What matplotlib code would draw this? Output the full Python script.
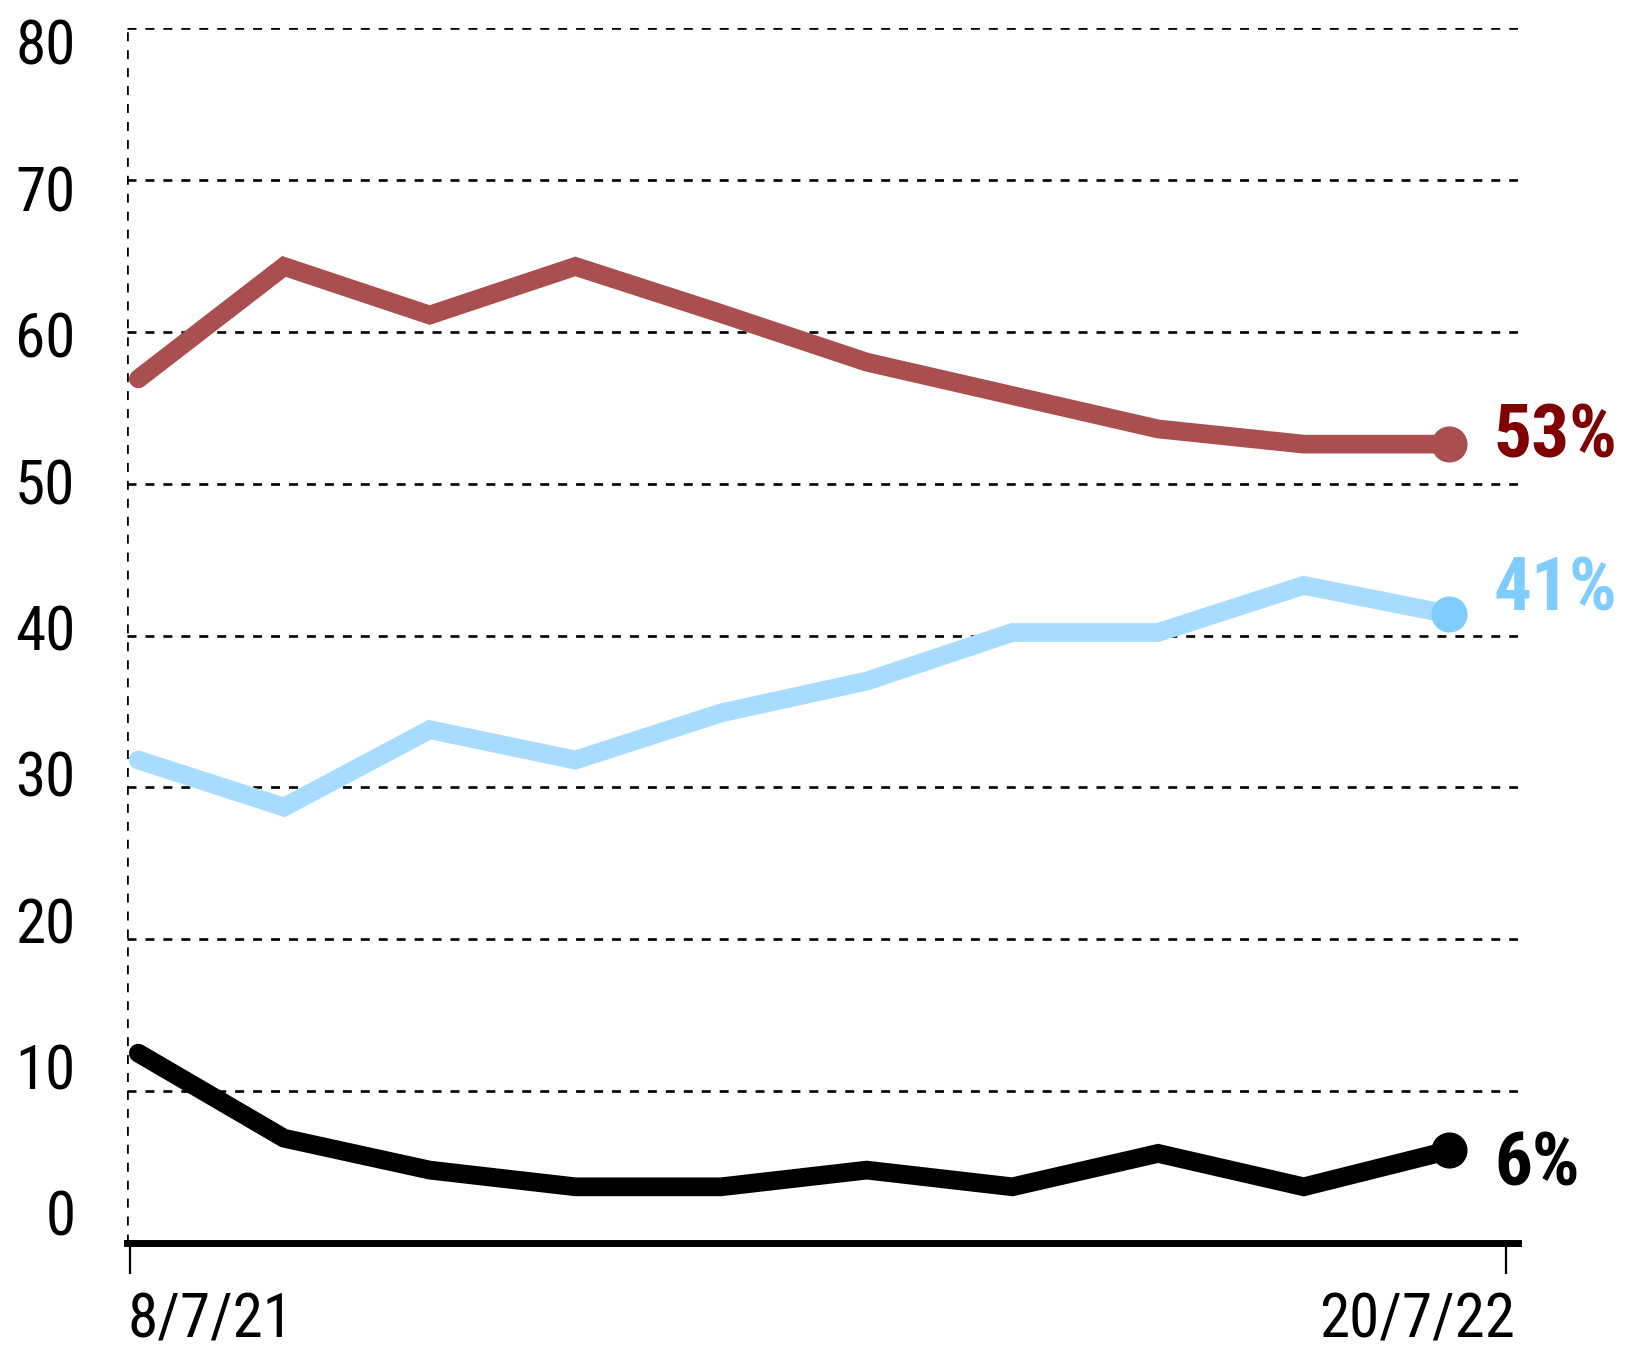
import matplotlib
matplotlib.use("Agg")
import matplotlib.pyplot as plt
from matplotlib import font_manager

# survey waves (index positions along the x axis)
waves = list(range(10))
red_vals = [56.9, 64.3, 61.1, 64.3, 61.2, 58.0, 55.8, 53.6, 52.6, 52.6]
blue_vals = [31.8, 28.7, 33.8, 31.8, 34.9, 37.0, 40.2, 40.2, 43.3, 41.4]
black_vals = [12.5, 6.9, 4.8, 3.7, 3.7, 4.8, 3.7, 5.9, 3.7, 6.1]

end_labels = ["53%", "41%", "6%"]
y_ticks = [0, 10, 20, 30, 40, 50, 60, 70, 80]
x_tick_pos = [-0.058, 9.39]
x_tick_labels = ["8/7/21", "20/7/22"]


def pick_font(names):
    for n in names:
        try:
            font_manager.findfont(font_manager.FontProperties(family=n),
                                  fallback_to_default=False)
            return n
        except ValueError:
            continue
    return "DejaVu Sans"


font = pick_font(["Liberation Sans Narrow", "Roboto Condensed", "DejaVu Sans"])
plt.rcParams["font.family"] = [font, "DejaVu Sans"]

fig = plt.figure(figsize=(16.32, 13.53), dpi=100)
ax = fig.add_axes([0.0778, 0.0813, 0.8523, 0.898])
ax.set_xlim(-0.078, 9.47)
ax.set_ylim(0, 80)

# dashed grid + dashed left edge
for v in y_ticks[1:]:
    ax.axhline(v, color="black", lw=1.9, dashes=(3.4, 3.4), zorder=1)
ax.axvline(-0.078, ymin=0, ymax=1, color="black", lw=1.9, dashes=(3.4, 3.4), zorder=1)

for s in ["top", "right", "left"]:
    ax.spines[s].set_visible(False)
ax.spines["bottom"].set_linewidth(5)
ax.spines["bottom"].set_zorder(5)

series = [
    (red_vals, "#a94f4f", "#a94f4f", "#800000", 5),
    (blue_vals, "#a8dcff", "#7fccff", "#7fccff", 17),
    (black_vals, "black", "black", "black", -11),
]
for (vals, lc, mc, tc, dy), lab in zip(series, end_labels):
    ax.plot(waves, vals, color=lc, lw=13.5, solid_capstyle="round",
            solid_joinstyle="miter", zorder=3, clip_on=False)
    ax.plot(waves[-1], vals[-1], "o", color=mc, ms=25, zorder=4, clip_on=False)
    ax.annotate(lab, (waves[-1], vals[-1]), xytext=(32, dy),
                textcoords="offset points", ha="left", va="center",
                fontsize=54, fontweight="bold", color=tc, annotation_clip=False)

# y labels (spread slightly differently from the grid, as in the original)
ax.set_yticks(y_ticks)
ax.set_yticklabels([])
ax.tick_params(axis="y", length=0)
for v in y_ticks:
    frac = 0.0199 + v / 80 * (0.9836 - 0.0199)
    ax.text(-0.037, frac, str(v), transform=ax.transAxes, ha="right",
            va="center", fontsize=44, color="black")

ax.set_xticks(x_tick_pos)
ax.set_xticklabels([])
ax.tick_params(axis="x", length=22, width=1.6, direction="out", pad=0)
for xp, lab, ha in zip(x_tick_pos, x_tick_labels, ["left", "right"]):
    ax.annotate(lab, (xp, 0), xytext=(-2 if ha == "left" else 6, -56),
                textcoords="offset points", ha=ha, va="center",
                fontsize=44, color="black", annotation_clip=False)

fig.savefig("out.png", dpi=100)
